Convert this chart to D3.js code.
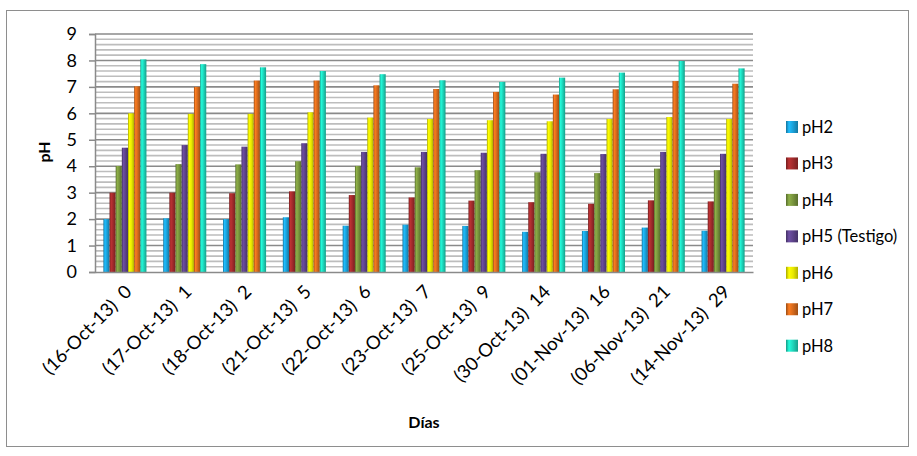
<!DOCTYPE html>
<html>
<head>
<meta charset="utf-8">
<script src="https://cdn.jsdelivr.net/npm/d3@7"></script>
<style>
  body { margin: 0; background: #fff; }
  text { font-family: Lato, "Open Sans", sans-serif; fill: #000; }
</style>
</head>
<body>
<svg id="chart" width="917" height="456"></svg>
<script>
  // categories (x axis) and series
  var days = ["(16-Oct-13)  0", "(17-Oct-13)  1", "(18-Oct-13)  2", "(21-Oct-13)  5",
              "(22-Oct-13)  6", "(23-Oct-13)  7", "(25-Oct-13)  9", "(30-Oct-13)  14",
              "(01-Nov-13)  16", "(06-Nov-13)  21", "(14-Nov-13)  29"];
  var seriesNames = ["pH2", "pH3", "pH4", "pH5 (Testigo)", "pH6", "pH7", "pH8"];
  var seriesColors = ["#1b9fd6", "#9e2a2b", "#77933c", "#5c4289", "#e8e800", "#d4691c", "#1dd3b8"];

  var pH2 = [2.0, 2.03, 2.0, 2.07, 1.75, 1.79, 1.74, 1.52, 1.55, 1.68, 1.56];
  var pH3 = [3.0, 3.0, 2.98, 3.05, 2.91, 2.82, 2.70, 2.64, 2.58, 2.71, 2.67];
  var pH4 = [4.01, 4.08, 4.07, 4.19, 4.01, 3.96, 3.85, 3.77, 3.74, 3.91, 3.85];
  var pH5 = [4.70, 4.80, 4.74, 4.87, 4.54, 4.54, 4.51, 4.47, 4.46, 4.54, 4.47];
  var pH6 = [6.0, 5.98, 5.98, 6.04, 5.84, 5.79, 5.74, 5.70, 5.79, 5.86, 5.79];
  var pH7 = [7.02, 7.0, 7.24, 7.24, 7.06, 6.92, 6.81, 6.71, 6.91, 7.22, 7.12];
  var pH8 = [8.04, 7.86, 7.74, 7.60, 7.48, 7.25, 7.19, 7.35, 7.54, 7.98, 7.70];
  var seriesValues = [pH2, pH3, pH4, pH5, pH6, pH7, pH8];

  var yTicks = [0, 1, 2, 3, 4, 5, 6, 7, 8, 9];

  var svg = d3.select("#chart");
  var plotL = 95, plotR = 753, plotT = 34, plotB = 272;

  // outer frame
  svg.append("rect")
    .attr("x", 6.5).attr("y", 10.5)
    .attr("width", 902).attr("height", 436)
    .attr("fill", "#fff").attr("stroke", "#8e8e8e").attr("stroke-width", 1);

  var x = d3.scaleBand().domain(days).range([plotL, plotR])
    .paddingInner(0.28).paddingOuter(0.14);
  var xs = d3.scaleBand().domain(d3.range(seriesNames.length)).range([0, x.bandwidth()]);
  var y = d3.scaleLinear().domain([0, 9]).range([plotB, plotT]);

  // gradients for the bevelled bars
  var defs = svg.append("defs");
  seriesColors.forEach(function (c, i) {
    var g = defs.append("linearGradient").attr("id", "g" + i)
      .attr("x1", 0).attr("x2", 1).attr("y1", 0).attr("y2", 0);
    var base = d3.color(c);
    g.append("stop").attr("offset", "0%").attr("stop-color", base.darker(0.9));
    g.append("stop").attr("offset", "25%").attr("stop-color", base.brighter(0.5));
    g.append("stop").attr("offset", "60%").attr("stop-color", base);
    g.append("stop").attr("offset", "100%").attr("stop-color", base.darker(0.8));
  });

  // minor gridlines
  var minor = d3.range(0, 9.01, 0.2).filter(function (v) { return Math.abs(v - Math.round(v)) > 0.01; });
  svg.append("g").selectAll("line").data(minor).enter().append("line")
    .attr("x1", plotL).attr("x2", plotR)
    .attr("y1", function (d) { return y(d); }).attr("y2", function (d) { return y(d); })
    .attr("stroke", "#bdbdbd").attr("stroke-width", 1.6);

  // major gridlines
  svg.append("g").selectAll("line").data(yTicks.slice(1)).enter().append("line")
    .attr("x1", plotL).attr("x2", plotR)
    .attr("y1", function (d) { return y(d); }).attr("y2", function (d) { return y(d); })
    .attr("stroke", "#8a8a8a").attr("stroke-width", 1.6);

  // y axis
  var yAxis = svg.append("g").attr("transform", "translate(" + plotL + ",0)")
    .call(d3.axisLeft(y).tickValues(yTicks).tickSize(6).tickPadding(12));
  yAxis.select(".domain").attr("stroke", "#8a8a8a").attr("stroke-width", 1.5);
  yAxis.selectAll(".tick line").attr("stroke", "#8a8a8a").attr("stroke-width", 1.5);
  yAxis.selectAll(".tick text").attr("font-size", 18).attr("font-family", "Lato, sans-serif");

  // bars
  var groups = svg.append("g").selectAll("g").data(days).enter().append("g")
    .attr("transform", function (d) { return "translate(" + x(d) + ",0)"; });
  groups.selectAll("rect")
    .data(function (d, gi) { return seriesValues.map(function (s, si) { return { si: si, v: s[gi] }; }); })
    .enter().append("rect")
    .attr("x", function (d) { return xs(d.si); })
    .attr("width", xs.bandwidth())
    .attr("y", function (d) { return y(d.v); })
    .attr("height", function (d) { return y(0) - y(d.v); })
    .attr("fill", function (d) { return "url(#g" + d.si + ")"; });

  // x axis
  var xAxis = svg.append("g").attr("transform", "translate(0," + plotB + ")")
    .call(d3.axisBottom(x).tickSize(0).tickPadding(0));
  xAxis.select(".domain").attr("stroke", "#8a8a8a").attr("stroke-width", 1.5);
  xAxis.selectAll(".tick text")
    .attr("font-size", 18.5).attr("font-family", "Lato, sans-serif")
    .attr("text-anchor", "end")
    .attr("dy", null).attr("y", 0)
    .style("white-space", "pre")
    .attr("transform", "translate(8,21) rotate(-45)");

  // axis titles
  svg.append("text").attr("transform", "translate(50,152) rotate(-90)")
    .attr("text-anchor", "middle").attr("font-size", 16).attr("font-weight", "bold").text("pH");
  svg.append("text").attr("x", 424).attr("y", 428)
    .attr("text-anchor", "middle").attr("font-size", 16).attr("font-weight", "bold").text("Días");

  // legend
  var legend = svg.append("g").selectAll("g").data(seriesNames).enter().append("g")
    .attr("transform", function (d, i) { return "translate(786," + (127 + i * 36.45) + ")"; });
  legend.append("rect").attr("x", 0).attr("y", -6).attr("width", 12).attr("height", 12)
    .attr("fill", function (d, i) { return "url(#g" + i + ")"; });
  legend.append("text").attr("x", 16).attr("y", 6).attr("font-size", 16.5).text(function (d) { return d; });
</script>
</body>
</html>
